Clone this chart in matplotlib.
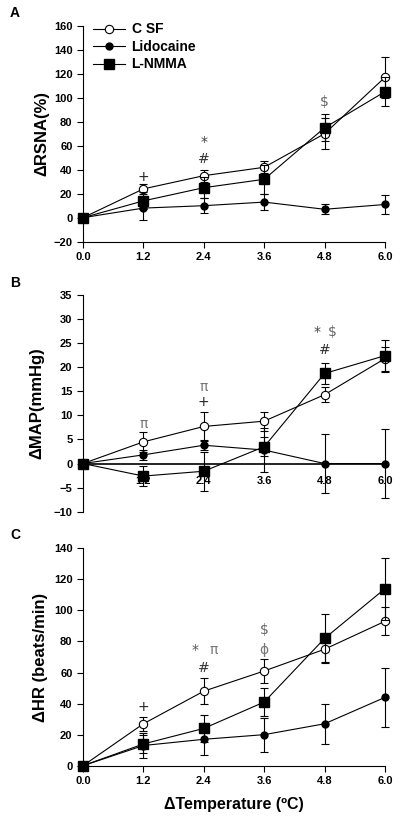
import numpy as np
import matplotlib
matplotlib.use('Agg')
import matplotlib.pyplot as plt
from matplotlib.lines import Line2D

plt.rcParams['font.family'] = ['Liberation Sans', 'DejaVu Sans']
plt.rcParams['font.weight'] = 'bold'

temps = [0.0, 1.2, 2.4, 3.6, 4.8, 6.0]
tick_labels = ['0.0', '1.2', '2.4', '3.6', '4.8', '6.0']
groups = ['C SF', 'Lidocaine', 'L-NMMA']

# panel A - RSNA (%)
rsna_csf = [0, 24, 35, 42, 70, 117]
rsna_csf_err = [0, 4, 5, 5, 13, 17]
rsna_lido = [0, 8, 10, 13, 7, 11]
rsna_lido_err = [0, 10, 6, 7, 4, 8]
rsna_lnmma = [0, 14, 25, 32, 75, 105]
rsna_lnmma_err = [0, 7, 9, 12, 11, 12]

# panel B - MAP (mmHg)
map_csf = [0, 4.5, 7.7, 8.8, 14.3, 21.8]
map_csf_err = [0, 2, 3, 2, 1.5, 2.5]
map_lido = [0, 1.8, 3.8, 2.8, 0, 0]
map_lido_err = [0, 1, 1, 4.5, 6.2, 7.2]
map_lnmma = [0, -2.6, -1.6, 3.5, 18.7, 22.4]
map_lnmma_err = [0, 2, 4, 2, 2.2, 3.3]

# panel C - HR (beats/min)
hr_csf = [0, 27, 48, 61, 75, 93]
hr_csf_err = [0, 4.5, 8.5, 7.5, 8, 9]
hr_lido = [0, 13, 17, 20, 27, 44]
hr_lido_err = [0, 8, 10, 11, 13, 19]
hr_lnmma = [0, 14, 24, 41, 82, 114]
hr_lnmma_err = [0, 6, 8.5, 9, 16, 20]

# significance marks: (x, y, text, colour)
marks_a = [(1.2, 34, '+', '#222'), (2.4, 48.5, '#', '#333'), (2.4, 63, '*', '#444'),
           (4.8, 96, '$', '#666')]
marks_b = [(1.2, 8.2, 'π', '#777'), (2.4, 12.8, '+', '#222'), (2.4, 15.8, 'π', '#777'),
           (4.8, 23.6, '#', '#333'), (4.65, 27.4, '*', '#444'), (4.95, 27.4, '$', '#666')]
marks_c = [(1.2, 38, '+', '#222'), (2.4, 62.7, '#', '#333'), (2.22, 74.5, '*', '#555'),
           (2.6, 74.5, 'π', '#777'), (3.6, 74.5, 'ϕ', '#777'), (3.6, 87.5, '$', '#666')]

fig = plt.figure(figsize=(4, 8.26), dpi=100)
axA = fig.add_axes([0.2075, 0.7074, 0.755, 0.2615])
axB = fig.add_axes([0.2075, 0.3805, 0.755, 0.2624])
axC = fig.add_axes([0.2075, 0.0730, 0.755, 0.2632])

styles = [dict(marker='o', ms=6, mfc='white', mec='black', mew=0.8),
          dict(marker='o', ms=5, mfc='black', mec='black'),
          dict(marker='s', ms=7, mfc='black', mec='black')]


def draw(ax, csf, csf_e, lido, lido_e, lnmma, lnmma_e):
  kw = dict(color='black', lw=0.8, capsize=3.2, elinewidth=0.8, capthick=0.8, clip_on=False)
  for (y, e), st, z in zip([(csf, csf_e), (lido, lido_e), (lnmma, lnmma_e)], styles, [4, 3, 5]):
    h = ax.errorbar(temps, y, yerr=e, zorder=z, **st, **kw)
    for part in h.lines[1] + h.lines[2]:
      part.set_clip_on(False)
  ax.set_xlim(0, 6)
  ax.set_xticks(temps)
  ax.set_xticklabels(tick_labels)
  ax.spines['top'].set_visible(False)
  ax.spines['right'].set_visible(False)
  ax.tick_params(labelsize=8, length=4, width=0.8, direction='out')


def put_marks(ax, marks):
  for x, y, t, c in marks:
    ax.text(x, y, t, ha='center', va='center', fontsize=10, color=c, fontweight='normal',
            family=['DejaVu Sans'])


draw(axA, rsna_csf, rsna_csf_err, rsna_lido, rsna_lido_err, rsna_lnmma, rsna_lnmma_err)
axA.set_ylim(-20, 160)
axA.set_yticks(np.arange(-20, 161, 20))
axA.set_ylabel('ΔRSNA(%)', fontsize=12, fontweight='bold', labelpad=3)
put_marks(axA, marks_a)
handles = [Line2D([], [], color='black', lw=0.8, **st) for st in styles]
axA.legend(handles, groups, loc='upper left', bbox_to_anchor=(0.0, 1.06),
           frameon=False, fontsize=10, handlelength=2.3, handletextpad=0.5,
           labelspacing=0.25, borderaxespad=0.3)

draw(axB, map_csf, map_csf_err, map_lido, map_lido_err, map_lnmma, map_lnmma_err)
axB.set_ylim(-10, 35)
axB.set_yticks(np.arange(-10, 36, 5))
axB.set_xticklabels([''] + tick_labels[1:])
axB.spines['bottom'].set_position(('data', 0))
axB.spines['bottom'].set_linewidth(1.2)
axB.tick_params(axis='x', length=0, pad=9)
axB.set_ylabel('ΔMAP(mmHg)', fontsize=12, fontweight='bold', labelpad=7)
put_marks(axB, marks_b)

draw(axC, hr_csf, hr_csf_err, hr_lido, hr_lido_err, hr_lnmma, hr_lnmma_err)
axC.set_ylim(0, 140)
axC.set_yticks(np.arange(0, 141, 20))
axC.set_ylabel('ΔHR (beats/min)', fontsize=12, fontweight='bold', labelpad=4)
axC.set_xlabel('ΔTemperature (ºC)', fontsize=11.5, fontweight='bold', labelpad=8)
put_marks(axC, marks_c)

for lab, y in (('A', 0.984), ('B', 0.657), ('C', 0.352)):
  fig.text(0.025, y, lab, fontsize=10, fontweight='bold', va='center')

fig.savefig('out.png', dpi=100)
